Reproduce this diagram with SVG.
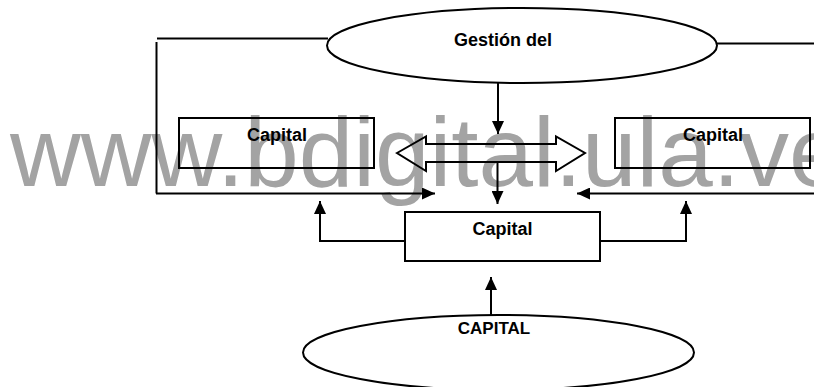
<svg xmlns="http://www.w3.org/2000/svg" width="814" height="387" viewBox="0 0 814 387">
  <style>
    .ln { fill: none; stroke: #000; stroke-width: 2; }
    .shape { fill: none; stroke: #000; stroke-width: 2; }
    .lbl { font-family: "Liberation Sans", Arial, sans-serif; font-weight: bold; font-size: 18px; fill: #000; text-anchor: middle; }
    .wm { font-family: "Liberation Sans", Arial, sans-serif; font-size: 98px; fill: #a3a3a3; }
  </style>
  <defs>
    <marker id="head" markerWidth="13" markerHeight="12" refX="13" refY="6" orient="auto" markerUnits="userSpaceOnUse">
      <path d="M0,0 L13,6 L0,12 Z" fill="#000"/>
    </marker>
  </defs>

  <rect width="814" height="387" fill="#fff"/>

  <!-- site watermark -->
  <text class="wm" x="10" y="186">www.bdigital.ula.ve</text>

  <!-- connectors -->
  <g id="connectors">
    <!-- outer loop from the management ellipse -->
    <line class="ln" x1="157" y1="38.5" x2="328" y2="38.5"/>
    <line class="ln" x1="156.5" y1="42" x2="156.5" y2="193.5"/>
    <line class="ln" x1="156" y1="193.5" x2="435" y2="193.5" marker-end="url(#head)"/>
    <line class="ln" x1="716" y1="43.5" x2="814" y2="43.5"/>
    <line class="ln" x1="814" y1="193.5" x2="577" y2="193.5" marker-end="url(#head)"/>
    <!-- central downward flow -->
    <line class="ln" x1="498" y1="83" x2="498" y2="134" marker-end="url(#head)"/>
    <line class="ln" x1="497.5" y1="162" x2="497.5" y2="204" marker-end="url(#head)"/>
    <!-- double hollow arrow between side boxes -->
    <polygon class="shape" points="397,153 426,136.5 426,144 556,144 556,136.5 585,153 556,171 556,162 426,162 426,171"/>
    <!-- branches from the centre box -->
    <polyline class="ln" points="405,241 320,241 320,201" marker-end="url(#head)"/>
    <polyline class="ln" points="600,241 686,241 686,201" marker-end="url(#head)"/>
    <!-- from bottom ellipse up to centre box -->
    <line class="ln" x1="491" y1="315" x2="491" y2="277" marker-end="url(#head)"/>
  </g>

  <g id="gestion">
    <ellipse class="shape" cx="522" cy="45.5" rx="195" ry="37.5"/>
    <text class="lbl" x="503" y="46">Gestión del</text>
  </g>

  <g id="capital-left">
    <rect class="shape" x="179" y="118" width="195" height="50"/>
    <text class="lbl" x="277" y="141">Capital</text>
  </g>

  <g id="capital-right">
    <rect class="shape" x="615" y="118" width="195" height="50"/>
    <text class="lbl" x="713" y="141">Capital</text>
  </g>

  <g id="capital-center">
    <rect class="shape" x="405" y="212" width="195" height="49"/>
    <text class="lbl" x="502.5" y="235">Capital</text>
  </g>

  <g id="capital-base">
    <ellipse class="shape" cx="498.5" cy="352.5" rx="195.5" ry="37.5"/>
    <text class="lbl" x="494" y="334" style="font-size:17px">CAPITAL</text>
  </g>
</svg>
